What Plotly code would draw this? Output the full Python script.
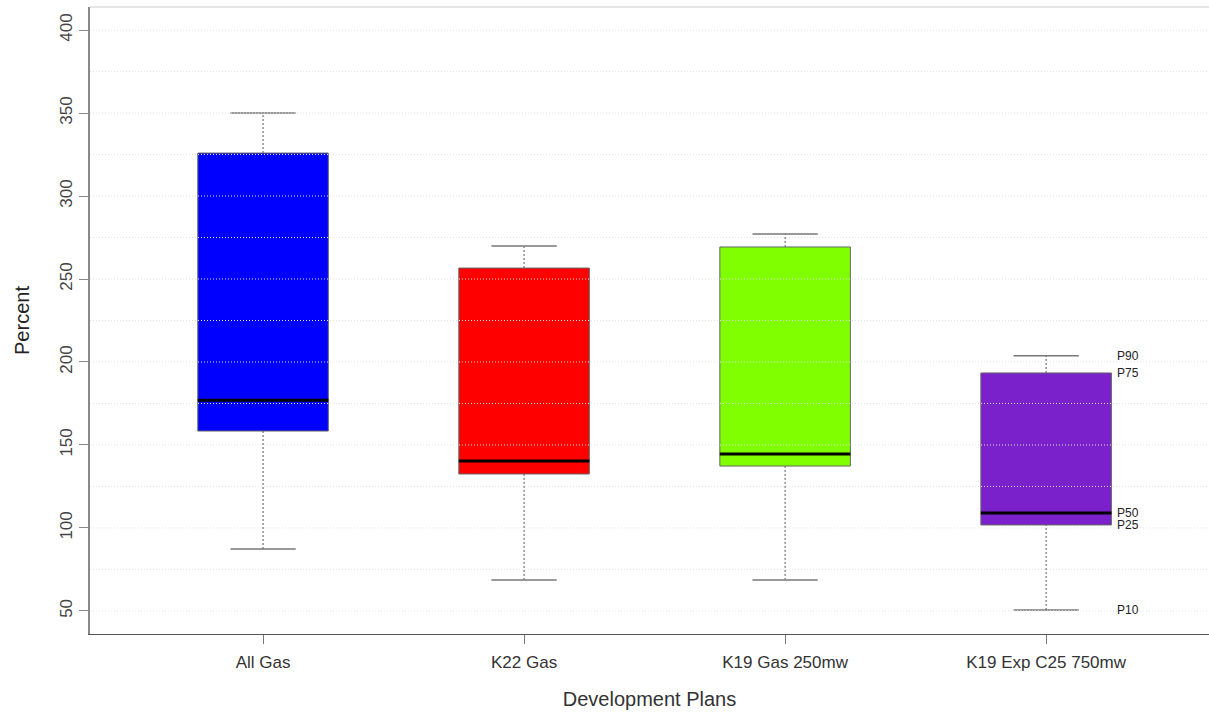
import plotly.graph_objects as go

categories = ["All Gas", "K22 Gas", "K19 Gas 250mw", "K19 Exp C25 750mw"]
p10 = [87.3, 68.7, 68.7, 50.6]
p25 = [158.4, 132.5, 137.3, 101.8]
p50 = [177.0, 140.4, 144.6, 109.0]
p75 = [325.9, 256.6, 269.3, 193.4]
p90 = [350.0, 269.9, 277.1, 203.8]
box_colors = ["#0000FF", "#FF0000", "#7FFF00", "#7B21CC"]
grid_values = [50, 75, 100, 125, 150, 175, 200, 225, 250, 275, 300, 325, 350, 375, 400]
y_ticks = [50, 100, 150, 200, 250, 300, 350, 400]
p_labels = ["P10", "P25", "P50", "P75", "P90"]

FONT = "Liberation Sans, Arial, Helvetica, sans-serif"
BOX_HALF = 0.25
CAP_HALF = 0.125

fig = go.Figure()

# Boxes as floating bars
fig.add_trace(go.Bar(
    x=list(range(len(categories))),
    y=[q3 - q1 for q1, q3 in zip(p25, p75)],
    base=p25,
    width=2 * BOX_HALF,
    marker=dict(color=box_colors, line=dict(color="#666666", width=1)),
    showlegend=False, hoverinfo="skip",
))

shapes = []
for i in range(len(categories)):
    # whiskers (dotted)
    shapes.append(dict(type="line", xref="x", yref="y", x0=i, x1=i, y0=p75[i], y1=p90[i],
                       line=dict(color="#555555", width=1, dash="2px,2px"), layer="below"))
    shapes.append(dict(type="line", xref="x", yref="y", x0=i, x1=i, y0=p10[i], y1=p25[i],
                       line=dict(color="#555555", width=1, dash="2px,2px"), layer="below"))
    # caps
    for v in (p10[i], p90[i]):
        shapes.append(dict(type="line", xref="x", yref="y", x0=i - CAP_HALF, x1=i + CAP_HALF,
                           y0=v, y1=v, line=dict(color="#777777", width=1.5), layer="below"))

# gridlines drawn above the boxes
for g in grid_values:
    shapes.append(dict(type="line", xref="paper", yref="y", x0=0, x1=1, y0=g, y1=g,
                       line=dict(color="#e2e2e2", width=1, dash="1px,2px"), layer="above"))

# medians
for i in range(len(categories)):
    shapes.append(dict(type="line", xref="x", yref="y", x0=i - BOX_HALF, x1=i + BOX_HALF,
                       y0=p50[i], y1=p50[i], line=dict(color="#000000", width=3), layer="above"))

# top light border
shapes.append(dict(type="line", xref="paper", yref="paper", x0=0, x1=1, y0=1, y1=1,
                   line=dict(color="#e6e6e6", width=2), layer="above"))

# P labels for last box
last = len(categories) - 1
annotations = []
for lab, vals in zip(p_labels, [p10, p25, p50, p75, p90]):
    annotations.append(dict(x=last + BOX_HALF + 0.015, y=vals[last], xref="x", yref="y",
                            text=lab, showarrow=False, xanchor="left", yanchor="middle",
                            font=dict(family=FONT, size=12, color="#222222")))

fig.update_layout(
    width=1209, height=714,
    margin=dict(l=90, r=0, t=7, b=80),
    paper_bgcolor="white", plot_bgcolor="white",
    font=dict(family=FONT, color="#333333"),
    shapes=shapes, annotations=annotations,
    showlegend=False,
    xaxis=dict(
        range=[-0.663, 3.624],
        tickmode="array", tickvals=list(range(len(categories))), ticktext=categories,
        showgrid=False, zeroline=False,
        showline=True, linecolor="#555555", linewidth=1,
        ticks="outside", ticklen=9, tickcolor="#777777",
        ticklabelstandoff=4,
        tickfont=dict(size=17, color="#333333"),
        title=dict(text="Development Plans", font=dict(size=20, color="#333333"), standoff=20),
    ),
    yaxis=dict(
        range=[36.1, 413.9],
        tickmode="array", tickvals=y_ticks,
        showgrid=False, zeroline=False,
        showline=True, linecolor="#888888", linewidth=1.5,
        ticks="outside", ticklen=9, tickcolor="#888888",
        tickangle=-90,
        tickfont=dict(size=17, color="#444444"),
        title=dict(text="Percent", font=dict(size=20, color="#222222"), standoff=22),
    ),
)

fig.write_html("out.html", config={"displayModeBar": False},
               post_script="document.body.style.margin='0';")
